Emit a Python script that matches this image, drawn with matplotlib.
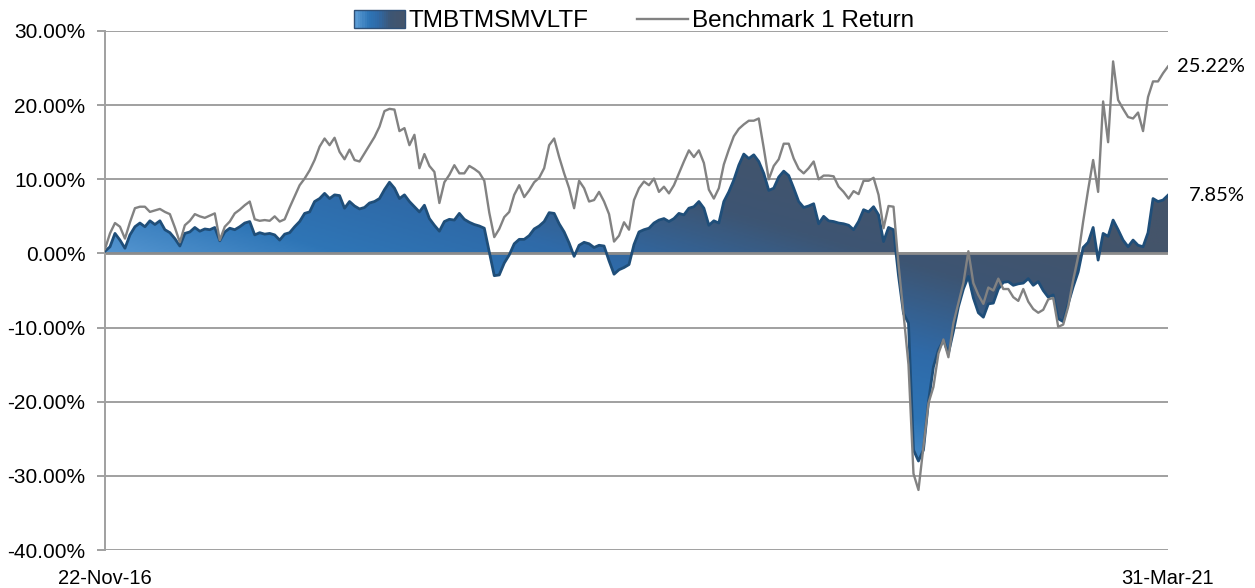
import numpy as np
import pandas as pd
import matplotlib
matplotlib.use("Agg")
import matplotlib.pyplot as plt
import matplotlib.dates as mdates
import matplotlib.transforms as mtransforms
from matplotlib.colors import LinearSegmentedColormap
from matplotlib.patches import Patch, PathPatch, Rectangle
from matplotlib.lines import Line2D
from matplotlib.legend_handler import HandlerBase

plt.rcParams['font.family'] = ['Liberation Sans', 'DejaVu Sans']

# cumulative returns (%) at roughly weekly steps
fund = [0.3, 0.9, 2.7, 1.8, 0.7, 2.5, 3.6, 4.1, 3.6, 4.4,
        3.9, 4.4, 3.2, 2.8, 2.0, 1.0, 2.7, 2.9, 3.5, 3.0,
        3.3, 3.2, 3.5, 1.7, 2.9, 3.4, 3.2, 3.6, 4.1, 4.3,
        2.5, 2.8, 2.6, 2.7, 2.5, 1.8, 2.6, 2.8, 3.6, 4.3,
        5.4, 5.6, 7.0, 7.4, 8.1, 7.4, 7.9, 7.8, 6.1, 7.0,
        6.4, 6.0, 6.2, 6.8, 7.0, 7.4, 8.6, 9.6, 8.8, 7.4,
        7.9, 7.0, 6.3, 5.6, 6.5, 4.7, 3.8, 3.0, 4.3, 4.6,
        4.5, 5.4, 4.6, 4.2, 3.9, 3.7, 3.4, 0.2, -3.0, -2.9,
        -1.3, -0.2, 1.3, 1.9, 1.9, 2.4, 3.3, 3.7, 4.3, 5.5,
        5.4, 4.0, 2.9, 1.4, -0.4, 1.1, 1.5, 1.3, 0.8, 1.1,
        1.0, -1.0, -2.8, -2.2, -1.9, -1.5, 1.2, 2.9, 3.2, 3.4,
        4.1, 4.5, 4.7, 4.3, 4.7, 5.4, 5.2, 6.1, 6.3, 7.0,
        6.1, 3.8, 4.4, 4.1, 7.0, 8.3, 9.9, 11.9, 13.4, 12.8,
        13.3, 12.4, 10.8, 8.5, 8.8, 10.3, 11.1, 10.5, 8.8, 7.0,
        6.2, 6.4, 6.7, 4.0, 5.0, 4.4, 4.3, 4.1, 4.0, 3.8,
        3.2, 4.3, 5.9, 5.6, 6.3, 5.2, 1.6, 3.5, 3.2, -3.0,
        -8.1, -9.4, -26.5, -28.0, -26.5, -20.0, -15.3, -13.0, -11.7, -13.5,
        -10.5, -7.2, -4.8, -3.1, -6.0, -8.0, -8.6, -6.8, -6.7, -4.8,
        -3.9, -3.8, -4.3, -4.1, -4.0, -3.4, -4.3, -3.8, -5.0, -5.9,
        -5.6, -8.8, -9.2, -6.8, -4.5, -2.5, 0.8, 1.5, 3.5, -0.9,
        2.7, 2.3, 4.5, 3.2, 1.8, 0.9, 1.8, 1.1, 0.9, 2.8,
        7.4, 7.0, 7.2, 7.85]

bench = [0.6, 2.7, 4.1, 3.6, 2.0, 4.2, 6.1, 6.3, 6.3, 5.6,
         5.8, 6.0, 5.6, 5.3, 3.5, 1.5, 3.8, 4.4, 5.3, 5.0,
         4.8, 5.1, 5.4, 1.8, 3.6, 4.3, 5.4, 5.9, 6.5, 7.0,
         4.6, 4.4, 4.5, 4.4, 5.0, 4.3, 4.6, 6.2, 7.7, 9.2,
         10.1, 11.2, 12.6, 14.4, 15.5, 14.6, 15.6, 13.7, 12.7, 14.0,
         12.6, 12.4, 13.5, 14.6, 15.7, 17.1, 19.2, 19.5, 19.4, 16.5,
         16.9, 14.6, 16.0, 11.5, 13.4, 11.8, 11.0, 6.8, 9.6, 10.6,
         11.9, 10.8, 10.8, 11.8, 11.4, 10.9, 9.8, 5.5, 2.2, 3.3,
         4.9, 5.6, 7.9, 9.2, 7.6, 8.5, 9.6, 10.2, 11.5, 14.6,
         15.5, 13.0, 10.8, 8.8, 6.1, 9.8, 8.8, 7.0, 7.2, 8.3,
         7.0, 5.3, 1.6, 2.4, 4.2, 3.2, 7.2, 8.8, 9.7, 9.2,
         10.1, 8.3, 9.0, 8.1, 9.2, 10.8, 12.4, 13.9, 13.0, 13.9,
         12.2, 8.6, 7.4, 8.8, 12.0, 14.0, 15.8, 16.8, 17.4, 17.9,
         17.9, 18.2, 14.2, 10.0, 11.8, 12.7, 14.8, 14.8, 12.8, 11.4,
         10.8, 11.5, 12.4, 10.0, 10.5, 10.5, 10.4, 9.0, 8.3, 7.4,
         8.4, 8.0, 9.8, 9.8, 10.2, 7.9, 3.4, 6.4, 6.3, -1.5,
         -8.1, -15.0, -29.7, -31.9, -26.0, -20.2, -18.0, -13.5, -11.6, -14.0,
         -9.4, -6.7, -4.0, 0.3, -4.0, -5.6, -6.8, -4.6, -5.0, -3.4,
         -4.8, -4.8, -5.9, -6.4, -4.8, -6.5, -7.5, -8.0, -7.6, -6.2,
         -6.0, -9.9, -9.6, -7.2, -3.6, -0.4, 4.3, 8.6, 12.6, 8.3,
         20.5, 15.0, 25.9, 20.7, 19.5, 18.4, 18.2, 19.0, 16.5, 21.1,
         23.2, 23.2, 24.3, 25.22]

start_date = "2016-11-22"
end_date = "2021-03-31"
x_labels = ["22-Nov-16", "31-Mar-21"]
y_ticks = [-40, -30, -20, -10, 0, 10, 20, 30]
series_names = ["TMBTMSMVLTF", "Benchmark 1 Return"]

dates = pd.date_range(start_date, end_date, periods=len(fund))
xn = mdates.date2num(dates)

cmap = LinearSegmentedColormap.from_list("grad", [
    (0.0, "#6aa5dc"), (0.32, "#5b9bd5"), (0.45, "#2e75b6"),
    (0.56, "#2f6aa8"), (0.70, "#3d5573"), (0.85, "#44546a"), (1.0, "#44546a")])


class GradientHandler(HandlerBase):
    # legend box with the same left->right gradient as the area
    def create_artists(self, legend, orig_handle, xdescent, ydescent,
                       width, height, fontsize, trans):
        n = 24
        arts = []
        for i in range(n):
            r = Rectangle((-xdescent + width * i / n, -ydescent), width / n + 0.3, height,
                          facecolor=cmap(0.3 + 0.55 * i / (n - 1)), edgecolor="none",
                          transform=trans)
            arts.append(r)
        arts.append(Rectangle((-xdescent, -ydescent), width, height, facecolor="none",
                              edgecolor="#2f5077", lw=1, transform=trans))
        return arts


fig = plt.figure(figsize=(12.55, 5.88), dpi=100)
ax = fig.add_axes([105 / 1255, 1 - 550 / 588, 1063 / 1255, 519 / 588])

poly = ax.fill_between(xn, fund, 0, facecolor="none", edgecolor="none")
clip = PathPatch(poly.get_paths()[0], transform=ax.transData,
                 facecolor="none", edgecolor="none")
ax.add_patch(clip)
grad = np.add.outer(np.linspace(0, 1, 200), np.linspace(0, 1, 400)) / 2
im = ax.imshow(grad, cmap=cmap, vmin=0, vmax=1, origin="lower", aspect="auto",
               extent=[xn[0], xn[-1], min(fund), max(fund)], zorder=2,
               interpolation="bilinear")
im.set_clip_path(clip)

ax.axhline(0, color="#8c8c8c", lw=2, zorder=2.5)
ax.plot(xn, fund, color="#1f4e79", lw=2, zorder=3)
ax.plot(xn, bench, color="#828282", lw=1.7, zorder=4)

ax.set_xlim(xn[0], xn[-1])
ax.set_ylim(-40, 30)
ax.set_yticks(y_ticks)
ax.set_yticklabels([f"{v:.2f}%" for v in y_ticks])
ax.set_xticks([xn[0], xn[-1]])
ax.set_xticklabels(x_labels)

ax.yaxis.grid(True, color="#a0a0a0", lw=1.4)
ax.set_axisbelow(True)
for s in ["top", "right", "bottom"]:
    ax.spines[s].set_visible(False)
ax.spines["left"].set_color("#a0a0a0")
ax.spines["left"].set_linewidth(1.4)
ax.tick_params(axis="y", length=6, width=1.4, color="#a0a0a0", pad=8, labelsize=15)
ax.tick_params(axis="x", length=0, pad=14, labelsize=14.5)

# end-value labels
trans = mtransforms.blended_transform_factory(fig.transFigure, ax.transData)
for v in [bench[-1], fund[-1]]:
    ax.text(1245 / 1255, v, f"{v:.2f}%", transform=trans, ha="right", va="center",
            fontsize=14.5, family=["Lato", "DejaVu Sans"])

handles = [Patch(facecolor="#3f7fbf"), Line2D([], [], color="#828282", lw=1.7)]
fig.legend(handles, series_names, loc="center", bbox_to_anchor=(634 / 1255, 1 - 21 / 588),
           ncol=2, frameon=False, fontsize=17.5, handlelength=2.1, handleheight=0.75,
           handletextpad=0.15, columnspacing=2.0,
           handler_map={Patch: GradientHandler()})

fig.savefig("out.png", dpi=100)
